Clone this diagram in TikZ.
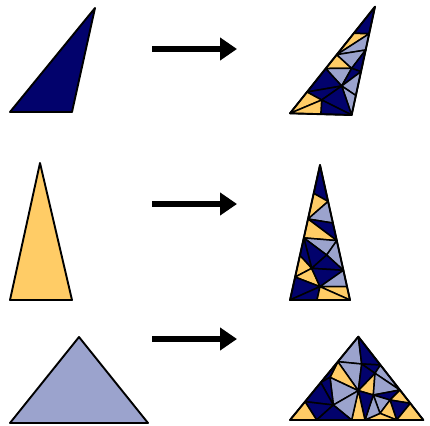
\documentclass[tikz,border=0pt]{standalone}
\usetikzlibrary{calc,arrows.meta}
\definecolor{navy}{RGB}{2,2,108}
\definecolor{gold}{RGB}{255,204,102}
\definecolor{lav}{RGB}{155,163,205}
\tikzset{
  edge/.style={draw=black,line width=1.5pt,line join=round},
  dk/.style={edge,fill=navy},
  yl/.style={edge,fill=gold},
  lv/.style={edge,fill=lav},
  outline/.style={draw=black,line width=1.9pt,line join=round},
  bigarrow/.style={line width=6pt,-{Triangle[length=17pt,width=22pt]}}
}
\newcommand\mytri[4]{\path[#1] (#2) -- (#3) -- (#4) -- cycle;}
\begin{document}
\begin{tikzpicture}[x=1pt,y=-1pt]
\useasboundingbox (0,0) rectangle (430,425);
% ---- left triangles ----
\coordinate (la1) at (10,112); \coordinate (lb1) at (95,8); \coordinate (lc1) at (72,112);
\mytri{dk,outline}{la1}{lb1}{lc1}
\coordinate (la2) at (40,163); \coordinate (lb2) at (10,300); \coordinate (lc2) at (72,300);
\mytri{yl,outline}{la2}{lb2}{lc2}
\coordinate (la3) at (79,337); \coordinate (lb3) at (10,423); \coordinate (lc3) at (148,423);
\mytri{lv,outline}{la3}{lb3}{lc3}
% ---- arrows ----
\coordinate (s1) at (152,49); \coordinate (e1) at (237,49);
\coordinate (s2) at (152,204); \coordinate (e2) at (237,204);
\coordinate (s3) at (152,339); \coordinate (e3) at (237,339);
\draw[bigarrow] (s1) -- (e1);
\draw[bigarrow] (s2) -- (e2);
\draw[bigarrow] (s3) -- (e3);
% ---- right triangle 1 ----
\begin{scope}[shift={(280,0)},scale=1/3]
\coordinate (A) at (30,340); \coordinate (B) at (285,20); \coordinate (C) at (215,345);
\coordinate (P1) at ($(A)!0.2!(B)$); \coordinate (P2) at ($(A)!0.42!(B)$);
\coordinate (P3) at ($(A)!0.55!(B)$); \coordinate (P4) at ($(A)!0.75!(B)$);
\coordinate (Q1) at ($(C)!0.18!(B)$); \coordinate (Q2) at ($(C)!0.4!(B)$);
\coordinate (Q3) at ($(C)!0.6!(B)$); \coordinate (Q4) at ($(C)!0.75!(B)$);
\coordinate (R1) at ($(A)!0.5!(C)$);
\coordinate (I1) at (125,300); \coordinate (I3) at (215,205); \coordinate (I5) at (185,258);
\mytri{dk}{B}{P4}{Q4}
\mytri{yl}{P4}{Q4}{P3}
\mytri{lv}{P3}{Q4}{Q3}
\mytri{yl}{P3}{P2}{I3}
\mytri{lv}{P3}{I3}{Q3}
\mytri{dk}{I3}{Q3}{Q2}
\mytri{lv}{P2}{I3}{I5}
\mytri{dk}{I3}{Q2}{I5}
\mytri{lv}{I5}{Q2}{Q1}
\mytri{dk}{P2}{I5}{P1}
\mytri{dk}{P1}{I5}{I1}
\mytri{lv}{I5}{Q1}{C}
\mytri{dk}{I1}{I5}{C}
\mytri{dk}{I1}{C}{R1}
\mytri{yl}{A}{P1}{I1}
\mytri{yl}{A}{I1}{R1}
\draw[outline] (A) -- (B) -- (C) -- cycle;
\end{scope}
% ---- right triangle 2 ----
\begin{scope}[shift={(280,155)},scale=1/3]
\coordinate (T) at (120,30); \coordinate (BL) at (30,435); \coordinate (BR) at (210,435);
\coordinate (La) at ($(BL)!0.79!(T)$); \coordinate (Lb) at ($(BL)!0.6!(T)$);
\coordinate (Lc) at ($(BL)!0.46!(T)$); \coordinate (Ld) at ($(BL)!0.33!(T)$);
\coordinate (Le) at ($(BL)!0.17!(T)$);
\coordinate (Ra) at ($(BR)!0.73!(T)$); \coordinate (Rb) at ($(BR)!0.57!(T)$);
\coordinate (Rc) at ($(BR)!0.44!(T)$); \coordinate (Rd) at ($(BR)!0.22!(T)$);
\coordinate (Re) at ($(BR)!0.1!(T)$);
\coordinate (Bm) at ($(BL)!0.45!(BR)$);
\coordinate (J1) at (140,300); \coordinate (J2) at (95,340); \coordinate (J3) at (120,395);
\mytri{dk}{T}{La}{Ra}
\mytri{yl}{La}{Ra}{Lb}
\mytri{lv}{Lb}{Ra}{Rb}
\mytri{dk}{Lb}{Rb}{Rc}
\mytri{yl}{Lb}{Rc}{Lc}
\mytri{lv}{Lc}{Rc}{J1}
\mytri{dk}{Lc}{J1}{J2}
\mytri{dk}{Lc}{J2}{Ld}
\mytri{lv}{Rc}{Rd}{J1}
\mytri{dk}{J1}{Rd}{J2}
\mytri{yl}{Ld}{J2}{Le}
\mytri{yl}{Le}{J2}{J3}
\mytri{dk}{Le}{J3}{BL}
\mytri{dk}{BL}{J3}{Bm}
\mytri{dk}{J2}{Rd}{J3}
\mytri{lv}{J3}{Rd}{Re}
\mytri{yl}{J3}{Re}{BR}
\mytri{yl}{J3}{BR}{Bm}
\draw[outline] (T) -- (BL) -- (BR) -- cycle;
\end{scope}
% ---- right triangle 3 ----
\begin{scope}[shift={(280,320)},scale=1/3]
\coordinate (U) at (235,50); \coordinate (UL) at (30,300); \coordinate (UR) at (430,300);
\coordinate (A1) at ($(UL)!0.7!(U)$); \coordinate (A2) at ($(UL)!0.45!(U)$);
\coordinate (A3) at ($(UL)!0.22!(U)$);
\coordinate (B1) at ($(UR)!0.66!(U)$); \coordinate (B2) at ($(UR)!0.36!(U)$);
\coordinate (B3) at ($(UR)!0.2!(U)$);
\coordinate (C1) at (110,300); \coordinate (C2) at (215,300);
\coordinate (C3) at (255,300); \coordinate (C4) at (350,300);
\coordinate (D1) at (245,132); \coordinate (D2) at (235,212); \coordinate (D3) at (150,172);
\coordinate (D4) at (285,160); \coordinate (D5) at (160,255); \coordinate (D6) at (280,225);
\coordinate (D7) at (330,240); \coordinate (D9) at (300,280);
\mytri{lv}{U}{A1}{D1}
\mytri{dk}{U}{D1}{B1}
\mytri{lv}{A1}{D1}{D2}
\mytri{yl}{A1}{D2}{D3}
\mytri{dk}{A1}{D3}{A2}
\mytri{dk}{D1}{B1}{D4}
\mytri{dk}{D1}{D4}{D2}
\mytri{yl}{D4}{D2}{D6}
\mytri{lv}{B1}{B2}{D4}
\mytri{lv}{D4}{B2}{D6}
\mytri{dk}{D6}{B2}{D7}
\mytri{yl}{B2}{B3}{D7}
\mytri{dk}{D7}{B3}{C4}
\mytri{yl}{B3}{UR}{C4}
\mytri{lv}{D6}{D7}{D9}
\mytri{yl}{D7}{C4}{D9}
\mytri{yl}{D9}{C4}{C3}
\mytri{lv}{D6}{D9}{C3}
\mytri{dk}{D2}{D6}{C3}
\mytri{yl}{D2}{C3}{C2}
\mytri{lv}{D3}{D2}{D5}
\mytri{lv}{D5}{D2}{C2}
\mytri{dk}{A2}{D3}{D5}
\mytri{dk}{A2}{D5}{A3}
\mytri{dk}{A3}{D5}{C1}
\mytri{dk}{D5}{C2}{C1}
\mytri{yl}{UL}{A3}{C1}
\draw[outline] (U) -- (UL) -- (UR) -- cycle;
\end{scope}
\end{tikzpicture}
\end{document}
